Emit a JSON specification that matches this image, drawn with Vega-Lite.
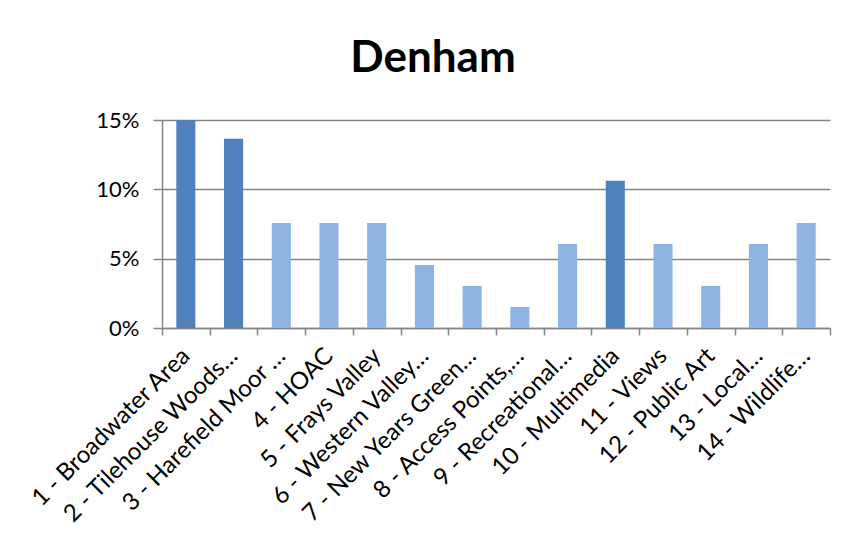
{
  "$schema": "https://vega.github.io/schema/vega-lite/v6.json",
  "autosize": {"type": "none"},
  "width": 668,
  "height": 208,
  "padding": {"left": 162, "top": 120, "right": 21, "bottom": 212},
  "background": "white",
  "title": {
    "text": "Denham",
    "font": "Lato",
    "fontSize": 44,
    "fontWeight": "bold",
    "color": "#000000",
    "anchor": "middle",
    "frame": "group",
    "dx": -63,
    "offset": 28
  },
  "data": {
    "values": [
      {"label": "1 - Broadwater Area", "pct": 0.1515},
      {"label": "2 - Tilehouse Woods…", "pct": 0.1364},
      {"label": "3 - Harefield Moor …", "pct": 0.0758},
      {"label": "4 - HOAC", "pct": 0.0758},
      {"label": "5 - Frays Valley", "pct": 0.0758},
      {"label": "6 - Western Valley…", "pct": 0.0455},
      {"label": "7 - New Years Green…", "pct": 0.0303},
      {"label": "8 - Access Points,…", "pct": 0.0152},
      {"label": "9 - Recreational…", "pct": 0.0606},
      {"label": "10 - Multimedia", "pct": 0.1061},
      {"label": "11 - Views", "pct": 0.0606},
      {"label": "12 - Public Art", "pct": 0.0303},
      {"label": "13 - Local…", "pct": 0.0606},
      {"label": "14 - Wildlife…", "pct": 0.0758}
    ]
  },
  "mark": {"type": "bar", "clip": true, "width": {"band": 0.4}},
  "encoding": {
    "x": {
      "field": "label",
      "type": "nominal",
      "sort": null,
      "title": null,
      "scale": {"paddingInner": 0, "paddingOuter": 0},
      "axis": {
        "tickBand": "extent",
        "labelAngle": -45,
        "labelAlign": "right",
        "labelBaseline": "middle",
        "labelFont": "Lato",
        "labelFontSize": 24,
        "labelColor": "#000000",
        "labelPadding": 17,
        "labelLimit": 400,
        "tickSize": 7,
        "tickColor": "#868686",
        "tickWidth": 1.5,
        "domainColor": "#868686",
        "domainWidth": 1.5,
        "grid": false
      }
    },
    "y": {
      "field": "pct",
      "type": "quantitative",
      "title": null,
      "scale": {"domain": [0, 0.15], "nice": false},
      "axis": {
        "values": [0, 0.05, 0.1, 0.15],
        "format": ".0%",
        "labelFont": "Lato",
        "labelFontSize": 22,
        "labelColor": "#000000",
        "labelPadding": 14,
        "tickSize": 9,
        "tickColor": "#868686",
        "tickWidth": 1.5,
        "domainColor": "#868686",
        "domainWidth": 1.5,
        "grid": true,
        "gridColor": "#868686",
        "gridWidth": 1.5
      }
    },
    "color": {
      "condition": {"test": "datum.pct >= 0.1", "value": "#4F81BD"},
      "value": "#8EB4E3"
    }
  },
  "config": {"view": {"stroke": null}}
}
